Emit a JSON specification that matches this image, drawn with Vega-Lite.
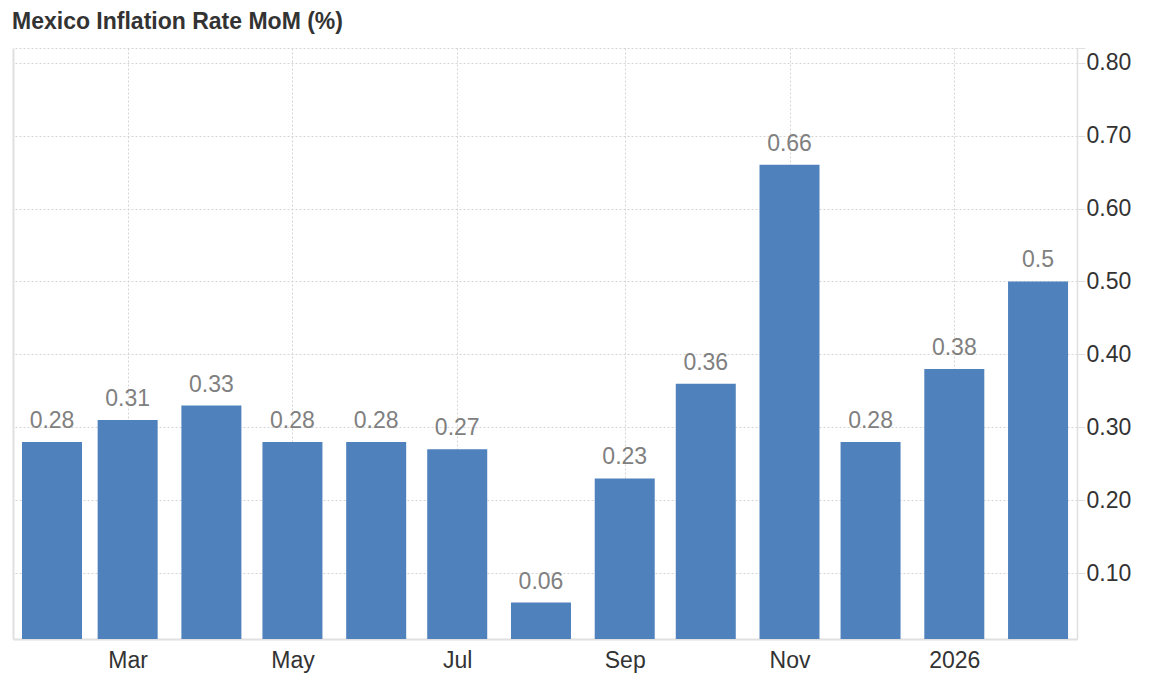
{
  "$schema": "https://vega.github.io/schema/vega-lite/v6.json",
  "width": 1064,
  "height": 591,
  "autosize": {"type": "none"},
  "padding": {"left": 13, "top": 48, "right": 73, "bottom": 43},
  "background": "white",
  "title": {
    "text": "Mexico Inflation Rate MoM (%)",
    "anchor": "start",
    "fontSize": 23,
    "fontWeight": "bold",
    "color": "#333333",
    "font": "Liberation Sans",
    "offset": 14,
    "dx": -1
  },
  "config": {"view": {"stroke": null}, "font": "Liberation Sans"},
  "data": {
    "values": [
      {"date": "2025-02-01", "value": 0.28},
      {"date": "2025-03-01", "value": 0.31},
      {"date": "2025-04-01", "value": 0.33},
      {"date": "2025-05-01", "value": 0.28},
      {"date": "2025-06-01", "value": 0.28},
      {"date": "2025-07-01", "value": 0.27},
      {"date": "2025-08-01", "value": 0.06},
      {"date": "2025-09-01", "value": 0.23},
      {"date": "2025-10-01", "value": 0.36},
      {"date": "2025-11-01", "value": 0.66},
      {"date": "2025-12-01", "value": 0.28},
      {"date": "2026-01-01", "value": 0.38},
      {"date": "2026-02-01", "value": 0.5}
    ]
  },
  "encoding": {
    "x": {
      "field": "date",
      "type": "temporal",
      "scale": {
        "type": "utc",
        "nice": false,
        "padding": 0,
        "domain": [
          {"year": 2025, "month": 1, "date": 17, "hours": 13, "minutes": 30, "utc": true},
          {"year": 2026, "month": 2, "date": 15, "hours": 10, "utc": true}
        ]
      },
      "axis": {
        "title": null,
        "values": [
          {"year": 2025, "month": 3, "date": 1, "utc": true},
          {"year": 2025, "month": 5, "date": 1, "utc": true},
          {"year": 2025, "month": 7, "date": 1, "utc": true},
          {"year": 2025, "month": 9, "date": 1, "utc": true},
          {"year": 2025, "month": 11, "date": 1, "utc": true},
          {"year": 2026, "month": 1, "date": 1, "utc": true}
        ],
        "labelExpr": "utcmonth(datum.value) == 0 ? utcFormat(datum.value, '%Y') : utcFormat(datum.value, '%b')",
        "grid": true,
        "gridDash": [2, 2],
        "gridColor": "#d4d4d4",
        "ticks": false,
        "domain": true,
        "domainColor": "#e0e0e0",
        "domainWidth": 2,
        "labelPadding": 10,
        "labelFontSize": 23,
        "labelColor": "#333333",
        "labelFont": "Liberation Sans"
      }
    },
    "y": {
      "field": "value",
      "type": "quantitative",
      "scale": {"domain": [0.01, 0.82], "zero": false, "nice": false}
    }
  },
  "layer": [
    {
      "mark": {"type": "bar", "width": 60, "color": "#4F81BD", "clip": true},
      "encoding": {
        "y": {
          "field": "value",
          "type": "quantitative",
          "axis": {
            "orient": "left",
            "title": null,
            "labels": false,
            "ticks": false,
            "grid": false,
            "domain": true,
            "domainColor": "#e0e0e0",
            "domainWidth": 2
          }
        }
      }
    },
    {
      "mark": {"type": "text", "dy": -14, "baseline": "alphabetic", "fontSize": 23, "color": "#808080", "font": "Liberation Sans"},
      "encoding": {
        "y": {
          "field": "value",
          "type": "quantitative",
          "axis": {
            "orient": "right",
            "title": null,
            "values": [0.1, 0.2, 0.3, 0.4, 0.5, 0.6, 0.7, 0.8, 0.82],
            "labelExpr": "datum.value > 0.81 ? '' : format(datum.value, '.2f')",
            "grid": true,
            "gridDash": [2, 2],
            "gridColor": "#d4d4d4",
            "domain": true,
            "domainColor": "#e0e0e0",
            "domainWidth": 1.5,
            "tickColor": "#e0e0e0",
            "tickSize": 8,
            "labelPadding": 1,
            "labelFontSize": 23,
            "labelColor": "#333333",
            "labelFont": "Liberation Sans"
          }
        },
        "text": {"field": "value", "type": "nominal"}
      }
    }
  ],
  "resolve": {"axis": {"y": "independent"}}
}
